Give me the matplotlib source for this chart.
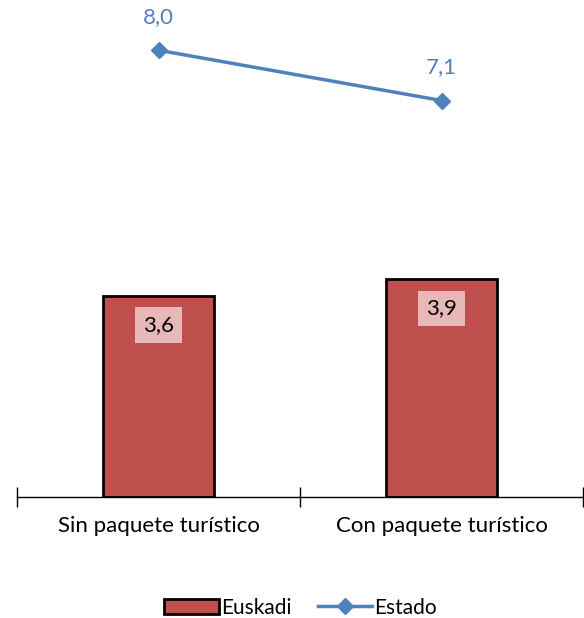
import numpy as np
import matplotlib.pyplot as plt

plt.rcParams['font.family'] = ['Lato', 'DejaVu Sans']

categories = ['Sin paquete turístico', 'Con paquete turístico']
euskadi = [3.6, 3.9]
estado = [8.0, 7.1]

bar_color = '#C0504D'
line_color = '#4F81BD'

fig = plt.figure(figsize=(5.84, 6.18), dpi=100)
ax = fig.add_axes([17 / 584, 121 / 618, 566 / 584, 497 / 618])

x = np.arange(len(categories))
bars = ax.bar(x, euskadi, width=0.39, color=bar_color, edgecolor='black',
              linewidth=2, label='Euskadi', zorder=2)
line, = ax.plot(x, estado, color=line_color, linewidth=2.5, marker='D', markersize=8,
                label='Estado', zorder=3)

for xi, v in zip(x, euskadi):
    ax.annotate('{:.1f}'.format(v).replace('.', ','), (xi, v), xytext=(0, -21),
                textcoords='offset points', ha='center', va='center',
                fontsize=16, color='black',
                bbox=dict(boxstyle='square,pad=0.35', fc='#E6B9B8', ec='none'))
for xi, v in zip(x, estado):
    ax.annotate('{:.1f}'.format(v).replace('.', ','), (xi, v), xytext=(0, 24),
                textcoords='offset points', ha='center', va='center',
                fontsize=16, color=line_color)

ax.set_xlim(-0.5, 1.5)
ax.set_ylim(0, 8.9)
ax.set_xticks([-0.5, 0.5, 1.5])
ax.set_xticklabels([])
ax.set_xticks(x, minor=True)
ax.set_xticklabels(categories, minor=True, fontsize=16)
ax.tick_params(axis='x', which='major', direction='inout', length=14, width=1)
ax.tick_params(axis='x', which='minor', length=0, pad=14)
ax.set_yticks([])
for s in ['top', 'right', 'left']:
    ax.spines[s].set_visible(False)
ax.spines['bottom'].set_linewidth(1)

fig.legend([bars, line], ['Euskadi', 'Estado'], loc='lower center',
           bbox_to_anchor=(0.515, -0.03), ncol=2, frameon=False,
           fontsize=15, handlelength=2.6, columnspacing=1.3, handletextpad=0.1)

fig.savefig('out.png', dpi=100)
